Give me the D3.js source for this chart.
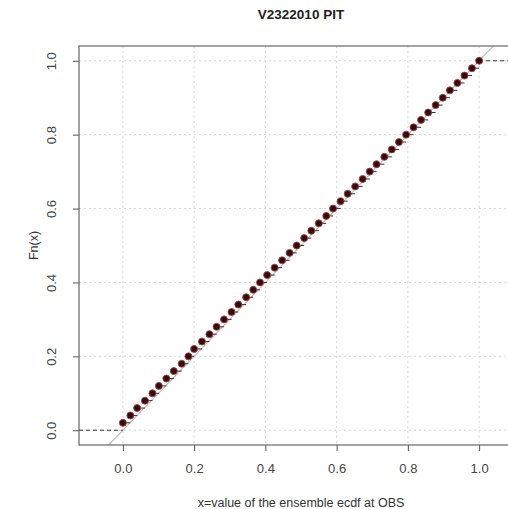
<!DOCTYPE html>
<html>
<head>
<meta charset="utf-8">
<script src="https://cdn.jsdelivr.net/npm/d3@7"></script>
<style>
  body { margin: 0; background: #fff; }
  text { font-family: "Liberation Sans", Arial, sans-serif; }
</style>
</head>
<body>
<script>

// sorted PIT values (one per forecast)
var pitValues = [0.000, 0.021, 0.040, 0.062, 0.083, 0.101, 0.122, 0.143, 0.165, 0.184,
                 0.200, 0.222, 0.243, 0.263, 0.284, 0.305, 0.324, 0.346, 0.366, 0.385,
                 0.405, 0.426, 0.447, 0.468, 0.488, 0.509, 0.529, 0.550, 0.571, 0.590,
                 0.611, 0.631, 0.652, 0.673, 0.693, 0.712, 0.734, 0.755, 0.775, 0.795,
                 0.816, 0.837, 0.857, 0.878, 0.898, 0.918, 0.939, 0.959, 0.980, 1.000];
var xTicks = [0, 0.2, 0.4, 0.6, 0.8, 1.0];
var yTicks = [0, 0.2, 0.4, 0.6, 0.8, 1.0];
var title = "V2322010 PIT";
var xLabel = "x=value of the ensemble ecdf at OBS";
var yLabel = "Fn(x)";

var width = 508, height = 509;
// plot region (right edge lies past the window, as in the reference)
var pLeft = 79, pRight = 523, pTop = 46, pBottom = 445;

var svg = d3.select("body").append("svg")
    .attr("width", width)
    .attr("height", height);

var n = pitValues.length;
var pts = pitValues.map(function(v, i) { return {x: v, y: (i + 1) / n}; });

var x = d3.scaleLinear().domain([-0.1232, 1.1232]).range([pLeft, pRight]);
var y = d3.scaleLinear().domain([-0.04, 1.04]).range([pBottom, pTop]);

svg.append("clipPath").attr("id", "clip")
  .append("rect")
    .attr("x", pLeft).attr("y", pTop)
    .attr("width", pRight - pLeft).attr("height", pBottom - pTop);

var plot = svg.append("g").attr("clip-path", "url(#clip)");

// grid
plot.append("g").selectAll("line").data(xTicks).enter().append("line")
    .attr("x1", function(d) { return x(d); }).attr("x2", function(d) { return x(d); })
    .attr("y1", pTop).attr("y2", pBottom)
    .attr("stroke", "#d6d6d6").attr("stroke-dasharray", "2,3");
plot.append("g").selectAll("line").data(yTicks).enter().append("line")
    .attr("y1", function(d) { return y(d); }).attr("y2", function(d) { return y(d); })
    .attr("x1", pLeft).attr("x2", pRight)
    .attr("stroke", "#d6d6d6").attr("stroke-dasharray", "2,3");

// diagonal reference
plot.append("line")
    .attr("x1", x(-0.04)).attr("y1", y(-0.04))
    .attr("x2", x(1.04)).attr("y2", y(1.04))
    .attr("stroke", "#c0c0c0").attr("stroke-width", 1.2);

// outer steps, dashed
plot.append("line")
    .attr("x1", pLeft).attr("x2", x(pts[0].x))
    .attr("y1", y(0)).attr("y2", y(0))
    .attr("stroke", "#333").attr("stroke-dasharray", "4,3");
plot.append("line")
    .attr("x1", x(pts[n - 1].x)).attr("x2", pRight)
    .attr("y1", y(1)).attr("y2", y(1))
    .attr("stroke", "#333").attr("stroke-dasharray", "4,3");

// horizontal steps
plot.append("g").selectAll("line").data(pts.slice(0, n - 1)).enter().append("line")
    .attr("x1", function(d) { return x(d.x); })
    .attr("x2", function(d, i) { return x(pts[i + 1].x); })
    .attr("y1", function(d) { return y(d.y); })
    .attr("y2", function(d) { return y(d.y); })
    .attr("stroke", "#333").attr("stroke-width", 1);

// points
plot.append("g").selectAll("circle").data(pts).enter().append("circle")
    .attr("cx", function(d) { return x(d.x); })
    .attr("cy", function(d) { return y(d.y); })
    .attr("r", 3.5)
    .attr("fill", "#3a0808")
    .attr("stroke", "#a04545").attr("stroke-width", 0.9);

// box
svg.append("rect")
    .attr("x", pLeft).attr("y", pTop)
    .attr("width", pRight - pLeft).attr("height", pBottom - pTop)
    .attr("fill", "none").attr("stroke", "#666").attr("stroke-width", 1.2);

// axes
var xAxis = svg.append("g")
    .attr("transform", "translate(0," + pBottom + ")")
    .call(d3.axisBottom(x).tickValues(xTicks).tickSize(6).tickPadding(13)
        .tickFormat(d3.format(".1f")));
xAxis.select(".domain").remove();
xAxis.selectAll("line").attr("stroke", "#555");
xAxis.selectAll("text").attr("font-size", 13).attr("fill", "#444")
    .attr("font-family", "Liberation Sans, Arial, sans-serif");

var yAxis = svg.append("g")
    .attr("transform", "translate(" + pLeft + ",0)")
    .call(d3.axisLeft(y).tickValues(yTicks).tickSize(6).tickFormat(d3.format(".1f")));
yAxis.select(".domain").remove();
yAxis.selectAll("line").attr("stroke", "#555");
yAxis.selectAll("text")
    .attr("font-size", 13).attr("fill", "#444")
    .attr("font-family", "Liberation Sans, Arial, sans-serif")
    .attr("x", null).attr("dy", null)
    .attr("text-anchor", "middle")
    .attr("transform", "translate(-23,0) rotate(-90)");

// labels
svg.append("text")
    .attr("x", (pLeft + pRight) / 2).attr("y", 19)
    .attr("text-anchor", "middle")
    .attr("font-size", 13.5).attr("font-weight", "bold").attr("fill", "#222")
    .text(title);

svg.append("text")
    .attr("x", (pLeft + pRight) / 2).attr("y", 507)
    .attr("text-anchor", "middle")
    .attr("font-size", 12.5).attr("fill", "#333")
    .text(xLabel);

svg.append("text")
    .attr("transform", "translate(38," + ((pTop + pBottom) / 2) + ") rotate(-90)")
    .attr("text-anchor", "middle")
    .attr("font-size", 12.5).attr("fill", "#333")
    .text(yLabel);

</script>
</body>
</html>
